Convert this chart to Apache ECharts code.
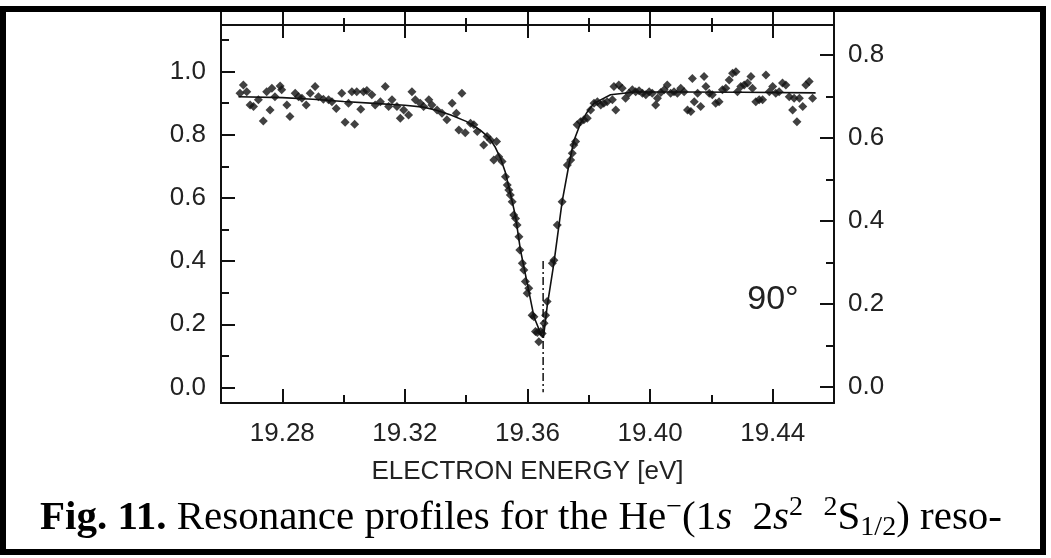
<!DOCTYPE html>
<html>
<head>
<meta charset="utf-8">
<script src="https://cdn.jsdelivr.net/npm/echarts@6/dist/echarts.min.js"></script>
<style>
  html, body { margin: 0; padding: 0; background: #ffffff; }
  #chart { width: 1051px; height: 558px; }
</style>
</head>
<body>
<div id="chart"></div>
<script>
// Measured electron transmission across the He- (1s 2s^2) resonance, 90 degree scattering
const energy = [
  19.2662, 19.2673, 19.2684, 19.2695, 19.2706, 19.2722, 19.2738, 19.2749, 19.2760, 19.2766,
  19.2776, 19.2793, 19.2798, 19.2815, 19.2825, 19.2842, 19.2853, 19.2864, 19.2878, 19.2891,
  19.2907, 19.2918, 19.2934, 19.2951, 19.2962, 19.2976, 19.2994, 19.3005, 19.3016, 19.3027,
  19.3036, 19.3043, 19.3056, 19.3065, 19.3076, 19.3092, 19.3103, 19.3120, 19.3136, 19.3147,
  19.3158, 19.3174, 19.3185, 19.3196, 19.3212, 19.3223, 19.3234, 19.3250, 19.3261, 19.3278,
  19.3288, 19.3305, 19.3321, 19.3337, 19.3354, 19.3368, 19.3376, 19.3386, 19.3397, 19.3414,
  19.3425, 19.3436, 19.3457, 19.3468, 19.3479, 19.3490, 19.3499, 19.3506, 19.3517, 19.3528,
  19.3534, 19.3539, 19.3544, 19.3550, 19.3555, 19.3561, 19.3566, 19.3572, 19.3575, 19.3583,
  19.3588, 19.3593, 19.3599, 19.3604, 19.3615, 19.3621, 19.3626, 19.3632, 19.3637, 19.3643,
  19.3648, 19.3654, 19.3659, 19.3664, 19.3681, 19.3686, 19.3697, 19.3713, 19.3730, 19.3741,
  19.3746, 19.3751, 19.3757, 19.3762, 19.3773, 19.3784, 19.3795, 19.3806, 19.3817, 19.3828,
  19.3839, 19.3849, 19.3860, 19.3877, 19.3882, 19.3888, 19.3898, 19.3909, 19.3920, 19.3931,
  19.3942, 19.3953, 19.3964, 19.3975, 19.3986, 19.3997, 19.4007, 19.4018, 19.4024, 19.4035,
  19.4046, 19.4056, 19.4067, 19.4078, 19.4089, 19.4100, 19.4111, 19.4122, 19.4133, 19.4138,
  19.4144, 19.4155, 19.4165, 19.4176, 19.4182, 19.4193, 19.4203, 19.4214, 19.4225, 19.4236,
  19.4247, 19.4258, 19.4269, 19.4280, 19.4285, 19.4296, 19.4307, 19.4318, 19.4329, 19.4334,
  19.4345, 19.4356, 19.4367, 19.4378, 19.4389, 19.4400, 19.4410, 19.4421, 19.4432, 19.4443,
  19.4454, 19.4465, 19.4470, 19.4479, 19.4487, 19.4498, 19.4508, 19.4519, 19.4530
];
const signal = [
  0.931, 0.957, 0.936, 0.894, 0.889, 0.910, 0.843, 0.936, 0.878, 0.947,
  0.920, 0.954, 0.942, 0.894, 0.857, 0.931, 0.920, 0.915, 0.894, 0.931,
  0.952, 0.920, 0.912, 0.910, 0.904, 0.883, 0.931, 0.839, 0.899, 0.936,
  0.833, 0.936, 0.880, 0.936, 0.940, 0.926, 0.894, 0.904, 0.952, 0.889,
  0.910, 0.889, 0.852, 0.878, 0.862, 0.936, 0.910, 0.899, 0.889, 0.910,
  0.894, 0.878, 0.868, 0.847, 0.899, 0.868, 0.815, 0.931, 0.806, 0.836,
  0.831, 0.810, 0.767, 0.794, 0.783, 0.720, 0.778, 0.730, 0.715, 0.667,
  0.641, 0.625, 0.609, 0.588, 0.546, 0.535, 0.514, 0.477, 0.435, 0.393,
  0.372, 0.335, 0.298, 0.314, 0.229, 0.224, 0.177, 0.174, 0.145, 0.177,
  0.171, 0.203, 0.229, 0.272, 0.393, 0.403, 0.514, 0.588, 0.704, 0.720,
  0.741, 0.767, 0.778, 0.831, 0.841, 0.847, 0.852, 0.878, 0.899, 0.904,
  0.894, 0.899, 0.904, 0.910, 0.952, 0.878, 0.957, 0.947, 0.915, 0.931,
  0.942, 0.936, 0.939, 0.931, 0.926, 0.936, 0.931, 0.894, 0.915, 0.933,
  0.942, 0.957, 0.931, 0.936, 0.931, 0.947, 0.936, 0.878, 0.873, 0.978,
  0.904, 0.931, 0.889, 0.984, 0.952, 0.931, 0.926, 0.899, 0.904, 0.942,
  0.947, 0.973, 0.994, 0.999, 0.936, 0.952, 0.957, 0.963, 0.984, 0.947,
  0.904, 0.910, 0.910, 0.989, 0.936, 0.952, 0.931, 0.936, 0.963, 0.957,
  0.920, 0.878, 0.915, 0.841, 0.915, 0.889, 0.957, 0.968, 0.915
];

// Fitted resonance profile
const fitEnergy = [
  19.2657, 19.2800, 19.2900, 19.3000, 19.3100, 19.3200, 19.3260, 19.3300, 19.3350, 19.3400,
  19.3445, 19.3475, 19.3495, 19.3512, 19.3528, 19.3545, 19.3561, 19.3577, 19.3599, 19.3621,
  19.3643, 19.3652, 19.3664, 19.3686, 19.3713, 19.3735, 19.3751, 19.3773, 19.3795, 19.3817,
  19.3871, 19.3950, 19.4100, 19.4300, 19.4540
];
const fitSignal = [
  0.920, 0.917, 0.912, 0.905, 0.899, 0.893, 0.887, 0.878, 0.862, 0.842,
  0.815, 0.790, 0.760, 0.725, 0.680, 0.610, 0.541, 0.435, 0.330, 0.224,
  0.171, 0.158, 0.256, 0.393, 0.588, 0.704, 0.780, 0.836, 0.872, 0.899,
  0.926, 0.935, 0.935, 0.934, 0.932
];

// Resonance position marker (dash-dot)
const markerEnergy = 19.3651;
const markerSpan = [0.40, -0.015];

const xRange = [19.26, 19.46];
const leftRange = [-0.049, 1.188];
const rightRange = [-0.0386, 0.9036];

const xMajorTicks = [19.28, 19.32, 19.36, 19.40, 19.44];
const xMinorTicks = [19.30, 19.34, 19.38, 19.42];
const leftMajorTicks = [0, 0.2, 0.4, 0.6, 0.8, 1.0];
const leftMinorTicks = [0.1, 0.3, 0.5, 0.7, 0.9, 1.1];
const rightMajorTicks = [0, 0.2, 0.4, 0.6, 0.8];
const rightMinorTicks = [0.1, 0.3, 0.5, 0.7];

const xTitle = 'ELECTRON ENERGY [eV]';
const angleLabel = '90°';

const INK = '#111';
const TEXT = '#222';
const SANS = '"Liberation Sans", Arial, sans-serif';
const SERIF = '"Liberation Serif", "Times New Roman", serif';
const MAJOR_LEN = 14;
const MINOR_LEN = 8;

function xAxisDef(opts) {
  return Object.assign({
    type: 'value',
    min: xRange[0],
    max: xRange[1],
    position: 'bottom',
    axisLine: { show: false, onZero: false },
    axisTick: { show: false },
    axisLabel: { show: false },
    splitLine: { show: false }
  }, opts);
}

function yAxisDef(range, opts) {
  return Object.assign({
    type: 'value',
    min: range[0],
    max: range[1],
    axisLine: { show: false, onZero: false },
    axisTick: { show: false },
    axisLabel: { show: false },
    splitLine: { show: false }
  }, opts);
}

function ticks(values, len, inside) {
  return { show: true, inside: inside, length: len, customValues: values,
           lineStyle: { color: INK, width: 2 } };
}

const axisLine = { show: true, onZero: false, lineStyle: { color: INK, width: 2 } };

const option = {
  animation: false,
  backgroundColor: '#ffffff',
  grid: { left: 221, right: 217, top: 12, bottom: 155, containLabel: false },
  xAxis: [
    xAxisDef({
      axisLine: axisLine,
      axisTick: ticks(xMajorTicks, MAJOR_LEN, true),
      axisLabel: {
        show: true, customValues: xMajorTicks, margin: 18,
        color: TEXT, fontFamily: SANS, fontSize: 26,
        formatter: v => v.toFixed(2)
      },
      name: xTitle,
      nameLocation: 'middle',
      nameGap: 56,
      nameTextStyle: { color: TEXT, fontFamily: SANS, fontSize: 26 }
    }),
    xAxisDef({ axisTick: ticks(xMinorTicks, MINOR_LEN, true) }),
    // upper frame line with ticks crossing it
    xAxisDef({ position: 'top', offset: -13, axisLine: axisLine,
               axisTick: ticks(xMajorTicks, 13, true) }),
    xAxisDef({ position: 'top', offset: -13, axisTick: ticks(xMajorTicks, 13, false) }),
    xAxisDef({ position: 'top', offset: -13, axisTick: ticks(xMinorTicks, 7, true) }),
    xAxisDef({ position: 'top', offset: -13, axisTick: ticks(xMinorTicks, 7, false) })
  ],
  yAxis: [
    yAxisDef(leftRange, {
      position: 'left',
      axisLine: axisLine,
      axisTick: ticks(leftMajorTicks, MAJOR_LEN, true),
      axisLabel: {
        show: true, customValues: leftMajorTicks, margin: 15,
        color: TEXT, fontFamily: SANS, fontSize: 26,
        formatter: v => v.toFixed(1)
      }
    }),
    yAxisDef(leftRange, { position: 'left', axisTick: ticks(leftMinorTicks, MINOR_LEN, true) }),
    yAxisDef(rightRange, {
      position: 'right',
      axisLine: axisLine,
      axisTick: ticks(rightMajorTicks, MAJOR_LEN, true),
      axisLabel: {
        show: true, customValues: rightMajorTicks, margin: 14,
        color: TEXT, fontFamily: SANS, fontSize: 26,
        formatter: v => v.toFixed(1)
      }
    }),
    yAxisDef(rightRange, { position: 'right', axisTick: ticks(rightMinorTicks, MINOR_LEN, true) })
  ],
  series: [
    {
      type: 'scatter',
      xAxisIndex: 0, yAxisIndex: 0,
      data: energy.map((e, i) => [e, signal[i]]),
      symbol: 'diamond',
      symbolSize: 9,
      itemStyle: { color: INK },
      z: 3
    },
    {
      type: 'line',
      xAxisIndex: 0, yAxisIndex: 0,
      data: fitEnergy.map((e, i) => [e, fitSignal[i]]),
      symbol: 'none',
      lineStyle: { color: INK, width: 1.6 },
      z: 4
    },
    {
      type: 'line',
      xAxisIndex: 0, yAxisIndex: 0,
      data: markerSpan.map(v => [markerEnergy, v]),
      symbol: 'none',
      lineStyle: { color: INK, width: 1.5, type: [8, 3, 2, 3] },
      z: 4
    }
  ],
  graphic: [
    {
      type: 'text',
      x: 773, y: 300,
      style: {
        text: angleLabel, fill: TEXT, font: '34px ' + SANS,
        textAlign: 'center', textVerticalAlign: 'middle'
      }
    },
    {
      type: 'text',
      x: 40, y: 494,
      style: {
        text: '{b|Fig. 11.}{r| Resonance profiles for the He}{sup|−}{r|(1}{i|s}{r|  2}{i|s}{sup|2}{r|  }{sup|2}{r|S}{sub|1/2}{r|) reso-}',
        fill: '#000',
        rich: {
          b: { fontFamily: SERIF, fontWeight: 'bold', fontSize: 41, lineHeight: 48, verticalAlign: 'middle', fill: '#000' },
          r: { fontFamily: SERIF, fontSize: 41, lineHeight: 48, verticalAlign: 'middle', fill: '#000' },
          i: { fontFamily: SERIF, fontStyle: 'italic', fontSize: 41, lineHeight: 48, verticalAlign: 'middle', fill: '#000' },
          sup: { fontFamily: SERIF, fontSize: 28, lineHeight: 30, verticalAlign: 'top', fill: '#000' },
          sub: { fontFamily: SERIF, fontSize: 28, lineHeight: 30, verticalAlign: 'bottom', fill: '#000' }
        }
      }
    },
    {
      type: 'rect',
      shape: { x: 3, y: 9, width: 1040, height: 543 },
      style: { fill: 'none', stroke: '#000', lineWidth: 6 },
      z: 100
    }
  ]
};

const chart = echarts.init(document.getElementById('chart'), null, { renderer: 'canvas' });
chart.setOption(option);
</script>
</body>
</html>
